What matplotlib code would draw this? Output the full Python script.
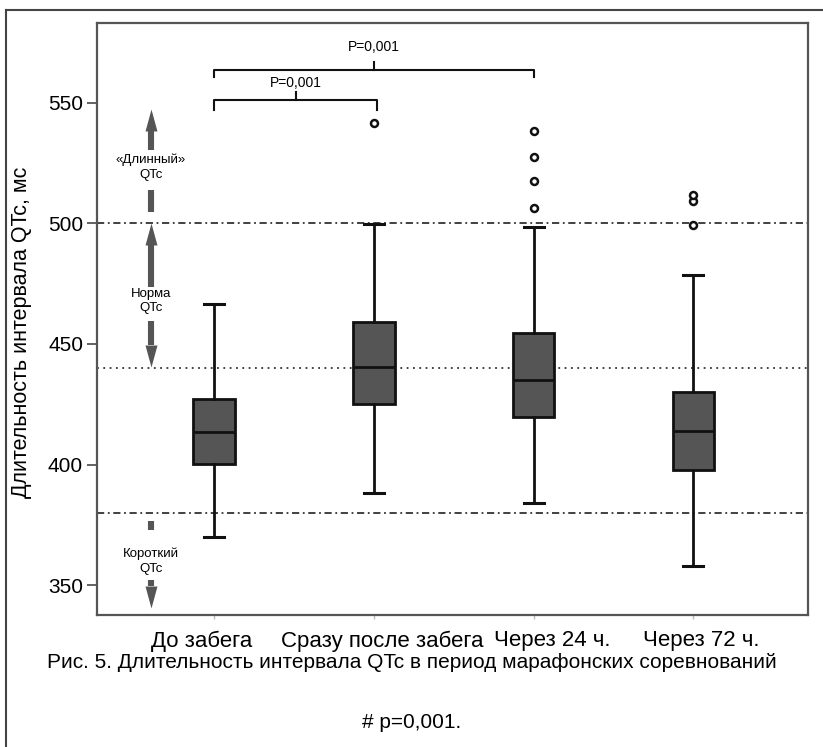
import matplotlib
matplotlib.use("Agg")
import matplotlib.pyplot as plt
from matplotlib.lines import Line2D
from matplotlib.path import Path

plt.rcParams["font.family"] = ["Liberation Sans", "DejaVu Sans"]

# QTc by time point (ms)
groups = ["До забега", "Сразу после забега", "Через 24 ч.", "Через 72 ч."]
q1 = [400.3, 425.0, 419.9, 397.8]
medians = [413.5, 440.3, 435.1, 414.1]
q3 = [427.2, 459.2, 454.4, 430.0]
whisk_lo = [370.0, 388.2, 384.3, 358.0]
whisk_hi = [466.6, 499.6, 498.6, 478.6]
outliers = [[], [541.4], [506.3, 517.5, 527.3, 538.4], [499.3, 509.4, 511.6]]

# reference levels: upper norm, mean, lower norm
levels = [500, 440, 380]
p_text = "P=0,001"

pos = [1, 2, 3, 4]
label_pos = [0.925, 2.05, 3.12, 4.05]   # group names are set a bit off the boxes

fig = plt.figure(figsize=(8.23, 7.47), dpi=100)
ax = fig.add_axes([97 / 823, (747 - 615) / 747, 711 / 823, 592 / 747])

# frame around the figure
fig.add_artist(Line2D([6 / 823, 1.0], [1 - 10 / 747] * 2, transform=fig.transFigure,
                      color="#444444", lw=1.5))
fig.add_artist(Line2D([6 / 823] * 2, [0.0, 1 - 10 / 747], transform=fig.transFigure,
                      color="#444444", lw=1.5))

stats = []
for i in range(len(groups)):
    stats.append(dict(q1=q1[i], med=medians[i], q3=q3[i], whislo=whisk_lo[i],
                      whishi=whisk_hi[i], fliers=outliers[i]))

ax.bxp(stats, positions=pos, widths=0.26, patch_artist=True, capwidths=0.125,
       manage_ticks=False,
       boxprops=dict(facecolor="#555555", edgecolor="#111111", linewidth=2),
       medianprops=dict(color="#111111", linewidth=2),
       whiskerprops=dict(color="#111111", linewidth=2),
       capprops=dict(color="#111111", linewidth=2.2),
       flierprops=dict(marker="o", markersize=5, markerfacecolor="white",
                       markeredgecolor="#111111", markeredgewidth=1.8))

ax.axhline(levels[0], color="#333333", lw=1.3, ls=(0, (4, 2, 1, 2)), zorder=0.5)
ax.axhline(levels[1], color="#333333", lw=1.3, ls=(0, (1, 2.5)), zorder=0.5)
ax.axhline(levels[2], color="#333333", lw=1.3, ls=(0, (4, 2, 1, 2)), zorder=0.5)

ax.set_xlim(0.267, 4.718)
ax.set_ylim(337.7, 583)
ax.set_yticks([350, 400, 450, 500, 550])
ax.set_xticks(label_pos)
ax.set_xticklabels(groups)
ax.set_xticks(pos, minor=True)
ax.tick_params(axis="y", direction="out", length=7, width=1.3, color="#555555",
               labelsize=15, pad=3)
ax.tick_params(axis="x", which="major", length=0, labelsize=16, pad=11)
ax.tick_params(axis="x", which="minor", direction="out", length=3, width=1,
               color="#bbbbbb")
for s in ax.spines.values():
    s.set_color("#555555")
    s.set_linewidth(1.6)

ax.set_ylabel("Длительность интервала QTc, мс", fontsize=15.5)
ax.yaxis.set_label_coords(-0.092, 0.478)

# significance brackets
def bracket(x0, x1, y, tip, top, ty):
    xm = (x0 + x1) / 2
    ax.plot([x0, x0, x1, x1], [y - tip, y, y, y - tip], color="#111111", lw=1.5,
            solid_joinstyle="round")
    ax.plot([xm, xm], [y, y + top], color="#111111", lw=1.5)
    ax.text(xm, ty, p_text, ha="center", va="center", fontsize=10)

bracket(1, 2.02, 551.1, 4.0, 3.5, 558.2)
bracket(1, 3, 563.5, 3.0, 3.3, 573.0)

# zone markers on the left
zx = 0.6055
zone_col = "#555555"
head_up = Path([(-6, -11), (6, -11), (0, 11), (-6, -11)])
head_dn = Path([(-6, 11), (6, 11), (0, -11), (-6, 11)])
head_len = 9.1  # data units
for tail, tip in [(530.4, 547.4), (473.5, 500.0), (459.5, 440.5), (352.0, 340.5)]:
    up = tip > tail
    base = tip - head_len if up else tip + head_len
    ax.plot([zx, zx], [tail, base], color=zone_col, lw=4.4, solid_capstyle="butt")
    ax.plot([zx], [(tip + base) / 2], marker=head_up if up else head_dn,
            markersize=15.8, color=zone_col, markeredgewidth=0)
for y0, y1 in [(504.5, 513.8), (373.0, 376.5)]:
    ax.plot([zx, zx], [y0, y1], color=zone_col, lw=4.4, solid_capstyle="butt")

ax.text(zx, 523.3, "«Длинный»\nQTc", ha="center", va="center", fontsize=9.5,
        linespacing=1.3)
ax.text(zx, 467.8, "Норма\nQTc", ha="center", va="center", fontsize=9.5,
        linespacing=1.3)
ax.text(zx, 360.0, "Короткий\nQTc", ha="center", va="center", fontsize=9.5,
        linespacing=1.3)

fig.text(0.5, 1 - 663 / 747,
         "Рис. 5. Длительность интервала QTc в период марафонских соревнований",
         ha="center", va="center", fontsize=15)
fig.text(0.5, 1 - 723 / 747, "# p=0,001.", ha="center", va="center", fontsize=15)

fig.savefig("out.png", dpi=100)
